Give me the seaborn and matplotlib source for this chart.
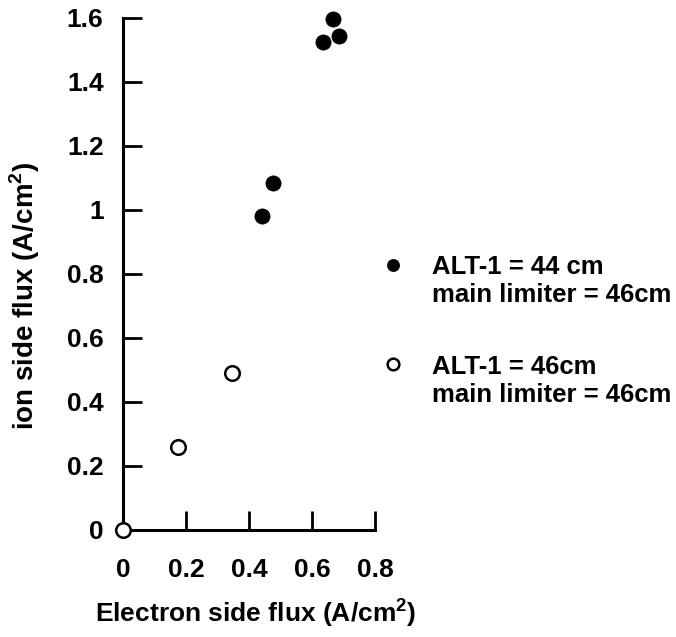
import pandas as pd
import numpy as np
import matplotlib.pyplot as plt
import seaborn as sns

x_44 = [0.441, 0.476, 0.635, 0.667, 0.686]
y_44 = [0.981, 1.084, 1.525, 1.597, 1.544]
x_46 = [0.0, 0.175, 0.346]
y_46 = [0.0, 0.26, 0.49]
label_44 = "ALT-1 = 44 cm\nmain limiter = 46cm"
label_46 = "ALT-1 = 46cm\nmain limiter = 46cm"

xticks = [0, 0.2, 0.4, 0.6, 0.8]
xticklabels = ["0", "0.2", "0.4", "0.6", "0.8"]
yticks = [0, 0.2, 0.4, 0.6, 0.8, 1.0, 1.2, 1.4, 1.6]
yticklabels = ["0", "0.2", "0.4", "0.6", "0.8", "1", "1.2", "1.4", "1.6"]

df44 = pd.DataFrame({"x": x_44, "y": y_44})
df46 = pd.DataFrame({"x": x_46, "y": y_46})

sns.set_style("white")
plt.rcParams['font.family'] = ['Liberation Sans', 'DejaVu Sans']
plt.rcParams['mathtext.fontset'] = 'custom'
plt.rcParams['mathtext.bf'] = 'Liberation Sans:bold'
plt.rcParams['text.color'] = 'black'
plt.rcParams['axes.labelcolor'] = 'black'
plt.rcParams['xtick.color'] = 'black'
plt.rcParams['ytick.color'] = 'black'

fig = plt.figure(figsize=(6.76, 6.37), dpi=100)
ax = fig.add_axes([0.182, 0.168, 0.373, 0.804])

sns.scatterplot(data=df44, x="x", y="y", ax=ax, s=120, color="black",
                edgecolor="black", linewidth=0.5, label=label_44, clip_on=False, zorder=5)
sns.scatterplot(data=df46, x="x", y="y", ax=ax, s=110, facecolor="white",
                edgecolor="black", linewidth=1.8, label=label_46, clip_on=False, zorder=5)

ax.set_xlim(0, 0.8)
ax.set_ylim(0, 1.6)
ax.set_xticks(xticks)
ax.set_xticklabels(xticklabels, fontsize=19, fontweight='bold')
ax.set_yticks(yticks)
ax.set_yticklabels(yticklabels, fontsize=19, fontweight='bold')
ax.tick_params(axis='both', direction='in', length=14, width=2, color='black',
               bottom=True, left=True)
ax.tick_params(axis='y', pad=14)
ax.tick_params(axis='x', pad=20)

ax.spines['top'].set_visible(False)
ax.spines['right'].set_visible(False)
for s in ['left', 'bottom']:
    ax.spines[s].set_linewidth(2.2)
    ax.spines[s].set_color('black')

ax.set_xlabel(r"Electron side flux (A/cm$^{\mathbf{2}}$)", fontsize=19, fontweight='bold')
ax.set_ylabel(r"ion side flux (A/cm$^{\mathbf{2}}$)", fontsize=20, fontweight='bold')
ax.xaxis.set_label_coords(0.524, -0.13)
ax.yaxis.set_label_coords(-0.32, 0.457)

fs = 18.5
leg = ax.legend(loc='upper left', bbox_to_anchor=(357 / 676, 1 - 232 / 637),
                bbox_transform=fig.transFigure, frameon=False, fontsize=fs,
                handletextpad=1.0, labelspacing=1.87, markerscale=0.8, handlelength=1.0)
for t in leg.get_texts():
    t.set_fontweight('bold')
# put the legend markers level with the first line of each label
for h in leg.legend_handles:
    off = h.get_offsets()
    off[:, 1] += 0.75 * fs
    h.set_offsets(off)

plt.savefig("out.png", dpi=100)
